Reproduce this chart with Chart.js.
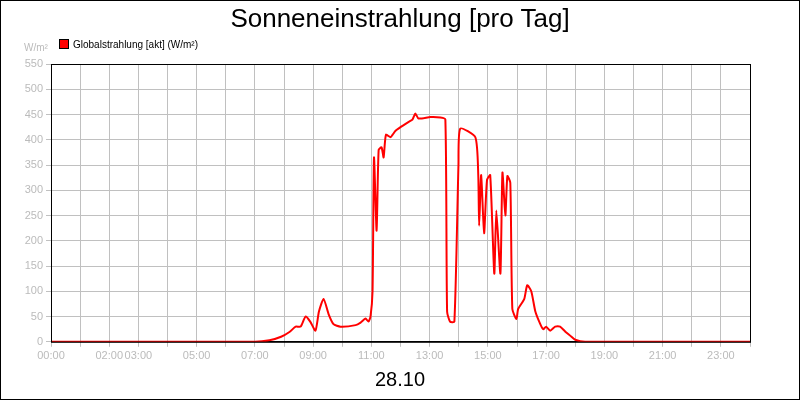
<!DOCTYPE html>
<html><head><meta charset="utf-8">
<script src="https://cdn.jsdelivr.net/npm/chart.js@4"></script>
<style>
html,body{margin:0;padding:0;background:#fff;}
#wrap{position:relative;width:798px;height:398px;border:1px solid #000;}
#title{position:absolute;top:2px;left:0;width:100%;text-align:center;font:26px "Liberation Sans",Arial;color:#000;}
#date{position:absolute;top:367px;left:0;width:100%;text-align:center;font:20px "Liberation Sans",Arial;color:#000;}
#unit{position:absolute;top:41px;left:23px;font:10px "Liberation Sans",Arial;color:#bbb;}
#leg{position:absolute;top:38px;left:58px;font:10px "Liberation Sans",Arial;color:#000;}
#leg span{display:inline-block;width:8px;height:8px;background:#f00;border:1px solid #000;margin-right:4px;vertical-align:-1px;}
canvas{position:absolute;left:0;top:0;}
</style></head><body>
<div id="wrap">
<canvas id="c" width="798" height="398"></canvas>
<div id="title">Sonneneinstrahlung [pro Tag]</div>
<div id="unit">W/m²</div>
<div id="leg"><span></span>Globalstrahlung [akt] (W/m²)</div>
<div id="date">28.10</div>
</div>
<script>
const seriesName = "Globalstrahlung [akt] (W/m²)";
const hours = [0,7,7.5,7.9,8.2,8.4,8.57,8.74,8.9,9.08,9.2,9.36,9.53,9.7,9.94,10.46,10.63,10.8,10.9,10.97,11.04,11.09,11.18,11.25,11.35,11.42,11.5,11.66,11.73,11.83,12.0,12.27,12.41,12.51,12.62,13.03,13.37,13.54,13.6,13.7,13.85,13.99,14.05,14.57,14.67,14.7,14.77,14.87,14.97,15.08,15.22,15.29,15.43,15.5,15.6,15.67,15.77,15.84,15.98,16.04,16.25,16.35,16.49,16.63,16.8,16.9,17.0,17.14,17.31,17.48,17.66,17.83,18.0,18.34,24];
const values = [0,0,3,10,20,30,30,50,40,22,60,85,55,35,30,33,38,46,40,50,100,365,220,380,385,365,410,405,410,418,425,435,440,452,442,445,444,440,60,40,40,350,422,405,330,230,330,215,320,330,135,260,135,335,250,328,315,65,45,65,85,112,100,60,35,25,30,22,30,30,20,12,4,0,0];
const shownHours = [0,2,3,5,7,9,11,13,15,17,19,21,23];
const yTicks = [0,50,100,150,200,250,300,350,400,450,500,550];
const pts = hours.map((h,i)=>({x:h,y:values[i]}));
const frame = {id:'frame',afterDraw(ch){const a=ch.chartArea,c=ch.ctx;c.save();c.strokeStyle='#000';c.lineWidth=1;c.strokeRect(a.left+0.5,a.top+0.5,a.right-a.left,a.bottom-a.top);c.restore();}};
new Chart(document.getElementById('c'),{
 type:'line',
 data:{datasets:[{label:seriesName,data:pts,borderColor:'#ff0000',borderWidth:2,pointRadius:0,tension:0.2,fill:false}]},
 options:{responsive:false,animation:false,
  layout:{padding:{left:0,right:49,top:63,bottom:33}},
  plugins:{legend:{display:false},tooltip:{enabled:false}},
  scales:{
   x:{type:'linear',min:0,max:24,afterBuildTicks(s){s.ticks=[];for(let h=0;h<=24;h++)s.ticks.push({value:h});},
      ticks:{autoSkip:false,maxRotation:0,color:'#bbb',font:{family:'Liberation Sans',size:11},
        callback:v=>shownHours.includes(v)?String(v).padStart(2,'0')+':00':''},
      grid:{color:'#c0c0c0',tickLength:5},border:{color:'#000'}},
   y:{min:0,max:550,afterBuildTicks(s){s.ticks=yTicks.map(v=>({value:v}));},afterFit(s){s.width=50;},
      ticks:{color:'#bbb',font:{family:'Liberation Sans',size:11}},
      grid:{color:'#c0c0c0',tickLength:5},border:{color:'#000'}}
  }},
 plugins:[frame]
});
</script>
</body></html>
